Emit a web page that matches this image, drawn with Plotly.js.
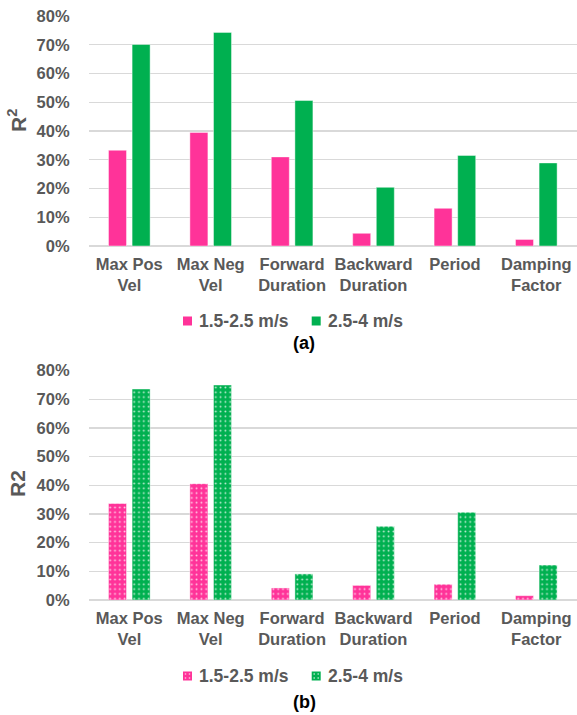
<!DOCTYPE html>
<html>
<head>
<meta charset="utf-8">
<script src="https://cdn.plot.ly/plotly-3.0.1.min.js"></script>
<style>
  html, body { margin: 0; padding: 0; background: #fff; }
  #chart { width: 577px; height: 715px; }
</style>
</head>
<body>
<div id="chart"></div>
<script>
// Category labels shared by both panels
const categories = ['Max Pos<br>Vel', 'Max Neg<br>Vel', 'Forward<br>Duration',
                    'Backward<br>Duration', 'Period', 'Damping<br>Factor'];
const seriesNames = ['1.5-2.5 m/s', '2.5-4 m/s'];

// Panel (a): R² per feature, in percent
const panelA_low  = [33.3, 39.5, 31.0, 4.4, 13.1, 2.3];
const panelA_high = [70.1, 74.3, 50.6, 20.4, 31.5, 28.9];

// Panel (b): R2 per feature, in percent
const panelB_low  = [33.7, 40.6, 4.2, 5.1, 5.5, 1.5];
const panelB_high = [73.6, 75.0, 9.1, 25.7, 30.6, 12.2];

const panelLabels = ['(a)', '(b)'];
const yTitles = ['R<sup>2</sup>', 'R2'];

const W = 577, H = 715;
const PINK = '#ff3399', GREEN = '#00b050', GREY = '#595959';
const FONT = 'Liberation Sans, Arial, sans-serif';
const px = x => x / W;
const py = y => 1 - y / H;
const frac = arr => arr.map(v => v / 100);

// pixel boxes of the two plot areas
const plotLeft = 88.6;
const panels = [
  { top: 16, bottom: 246, legendY: 321, labelY: 343, titleY: 121 },
  { top: 370.7, bottom: 600, legendY: 676, labelY: 702, titleY: 484 }
];

function barTrace(values, color, axisIdx, patterned) {
  const marker = { color: color, line: { color: 'rgba(255,255,255,0.55)', width: 0.8 } };
  if (patterned) {
    marker.pattern = { shape: '.', fillmode: 'overlay', fgcolor: '#ffffff',
                       fgopacity: 0.75, size: 4.8, solidity: 0.12 };
  }
  return {
    type: 'bar', x: categories, y: frac(values), marker: marker,
    xaxis: axisIdx === 1 ? 'x' : 'x2', yaxis: axisIdx === 1 ? 'y' : 'y2',
    showlegend: false, hoverinfo: 'skip'
  };
}

const data = [
  barTrace(panelA_low, PINK, 1, false),
  barTrace(panelA_high, GREEN, 1, false),
  barTrace(panelB_low, PINK, 2, true),
  barTrace(panelB_high, GREEN, 2, true)
];

function xAxis(anchor) {
  return {
    domain: [px(plotLeft), 1], anchor: anchor, type: 'category',
    ticks: '', showline: false, showgrid: false, zeroline: false,
    tickfont: { family: FONT, size: 16.5, color: GREY, weight: 'bold' },
    ticklabelstandoff: 6, fixedrange: true
  };
}
function yAxis(p, anchor) {
  return {
    domain: [py(p.bottom), py(p.top)], anchor: anchor,
    range: [0, 0.8], dtick: 0.1, tick0: 0, tickformat: '.0%',
    showgrid: true, gridcolor: '#d9d9d9', gridwidth: 1.4,
    zeroline: true, zerolinecolor: '#d9d9d9', zerolinewidth: 1.4,
    showline: false, ticks: '',
    tickfont: { family: FONT, size: 16.5, color: GREY, weight: 'bold' },
    ticklabelstandoff: 18, fixedrange: true
  };
}

const annotations = [];
const shapes = [];
const swatchX = [183, 311.7];
const textX = [196.5, 325.5];
const colors = [PINK, GREEN];

panels.forEach((p, i) => {
  // y-axis title
  annotations.push({
    xref: 'paper', yref: 'paper', x: px(17), y: py(p.titleY),
    xanchor: 'center', yanchor: 'middle', textangle: -90, showarrow: false,
    text: '<b>' + yTitles[i] + '</b>',
    font: { family: FONT, size: 21, color: GREY }
  });
  // panel label
  annotations.push({
    xref: 'paper', yref: 'paper', x: px(304), y: py(p.labelY),
    xanchor: 'center', yanchor: 'middle', showarrow: false,
    text: '<b>' + panelLabels[i] + '</b>',
    font: { family: FONT, size: 18, color: '#000000' }
  });
  // legend entries
  seriesNames.forEach((name, k) => {
    const sx = swatchX[k], sy = p.legendY;
    shapes.push({
      type: 'rect', xref: 'paper', yref: 'paper', layer: 'above',
      x0: px(sx), x1: px(sx + 9), y0: py(sy + 4.5), y1: py(sy - 4.5),
      fillcolor: colors[k], line: { width: 0 }
    });
    if (i === 1) {
      // dotted swatch for the patterned panel
      [[2.5, 2.5], [6.5, 2.5], [2.5, 6.5], [6.5, 6.5]].forEach(([dx, dy]) => {
        shapes.push({
          type: 'rect', xref: 'paper', yref: 'paper', layer: 'above',
          x0: px(sx + dx - 0.7), x1: px(sx + dx + 0.7),
          y0: py(sy - 4.5 + dy + 0.7), y1: py(sy - 4.5 + dy - 0.7),
          fillcolor: 'rgba(255,255,255,0.7)', line: { width: 0 }
        });
      });
    }
    annotations.push({
      xref: 'paper', yref: 'paper', x: px(textX[k]), y: py(sy),
      xanchor: 'left', yanchor: 'middle', showarrow: false,
      text: '<b>' + name + '</b>',
      font: { family: FONT, size: 17.5, color: GREY }
    });
  });
});

const layout = {
  width: W, height: H,
  margin: { l: 0, r: 0, t: 0, b: 0, pad: 0 },
  paper_bgcolor: '#ffffff', plot_bgcolor: '#ffffff',
  barmode: 'group', bargap: 0.42, bargroupgap: 0.237,
  showlegend: false,
  xaxis: xAxis('y'), yaxis: yAxis(panels[0], 'x'),
  xaxis2: xAxis('y2'), yaxis2: yAxis(panels[1], 'x2'),
  annotations: annotations, shapes: shapes
};

Plotly.newPlot('chart', data, layout, { staticPlot: true, displayModeBar: false });
</script>
</body>
</html>
